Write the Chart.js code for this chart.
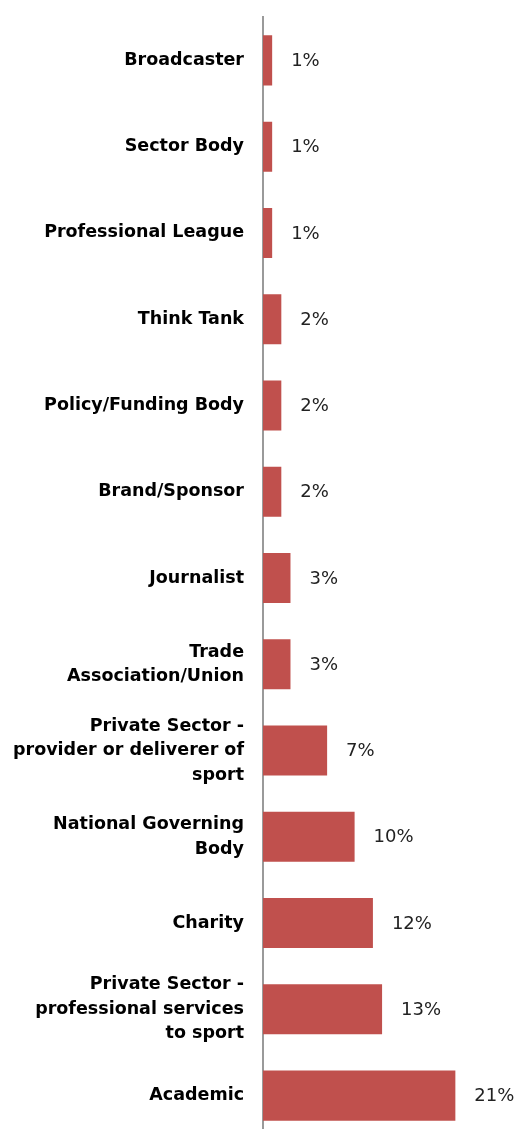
<!DOCTYPE html>
<html>
<head>
<meta charset="utf-8">
<script src="https://cdn.jsdelivr.net/npm/chart.js@4"></script>
<style>
  html, body { margin: 0; padding: 0; background: #fff; overflow: hidden; }
  /* the y scale reserves tick padding above the first band; pull the canvas up to compensate */
  #wrap { width: 518px; height: 1184px; margin-top: -14px; }
</style>
</head>
<body>
<div id="wrap"><canvas id="orgChart" width="518" height="1184"></canvas></div>
<script>
// Respondent organisation types, share of responses (%)
const orgTypes = [
  'Broadcaster',
  'Sector Body',
  'Professional League',
  'Think Tank',
  'Policy/Funding Body',
  'Brand/Sponsor',
  'Journalist',
  ['Trade', 'Association/Union'],
  ['Private Sector -', 'provider or deliverer of', 'sport'],
  ['National Governing', 'Body'],
  'Charity',
  ['Private Sector -', 'professional services', 'to sport'],
  'Academic'
];
const sharePct = [1, 1, 1, 2, 2, 2, 3, 3, 7, 10, 12, 13, 21];
const axisMax = 25;

const barRed = '#C0504D';
const axisGrey = '#9a9a9a';
const labelFont = 'DejaVu Sans, sans-serif';

// draws "n%" just past the end of each bar
const valueLabels = {
  id: 'valueLabels',
  afterDatasetsDraw(chart) {
    const ctx = chart.ctx;
    const meta = chart.getDatasetMeta(0);
    ctx.save();
    ctx.font = '18px ' + labelFont;
    ctx.fillStyle = '#222';
    ctx.textAlign = 'left';
    ctx.textBaseline = 'middle';
    meta.data.forEach((bar, i) => {
      ctx.fillText(sharePct[i] + '%', bar.x + 19, bar.y + 1);
    });
    ctx.restore();
  }
};

new Chart(document.getElementById('orgChart'), {
  type: 'bar',
  data: {
    labels: orgTypes,
    datasets: [{
      data: sharePct,
      backgroundColor: barRed,
      borderWidth: 0,
      barPercentage: 0.58,
      categoryPercentage: 1
    }]
  },
  options: {
    indexAxis: 'y',
    responsive: false,
    animation: false,
    layout: { padding: { top: 16, bottom: 2, right: 26, left: 0 } },
    plugins: {
      legend: { display: false },
      tooltip: { enabled: false }
    },
    scales: {
      x: {
        display: false,
        min: 0,
        max: axisMax
      },
      y: {
        afterFit(scale) { scale.width = 263; },
        grid: { display: false, drawTicks: false },
        border: { display: true, color: axisGrey, width: 2 },
        ticks: {
          padding: 19,
          color: '#000',
          font: { family: labelFont, size: 17.5, weight: 'bold', lineHeight: 1.4 }
        }
      }
    }
  },
  plugins: [valueLabels]
});
</script>
</body>
</html>
